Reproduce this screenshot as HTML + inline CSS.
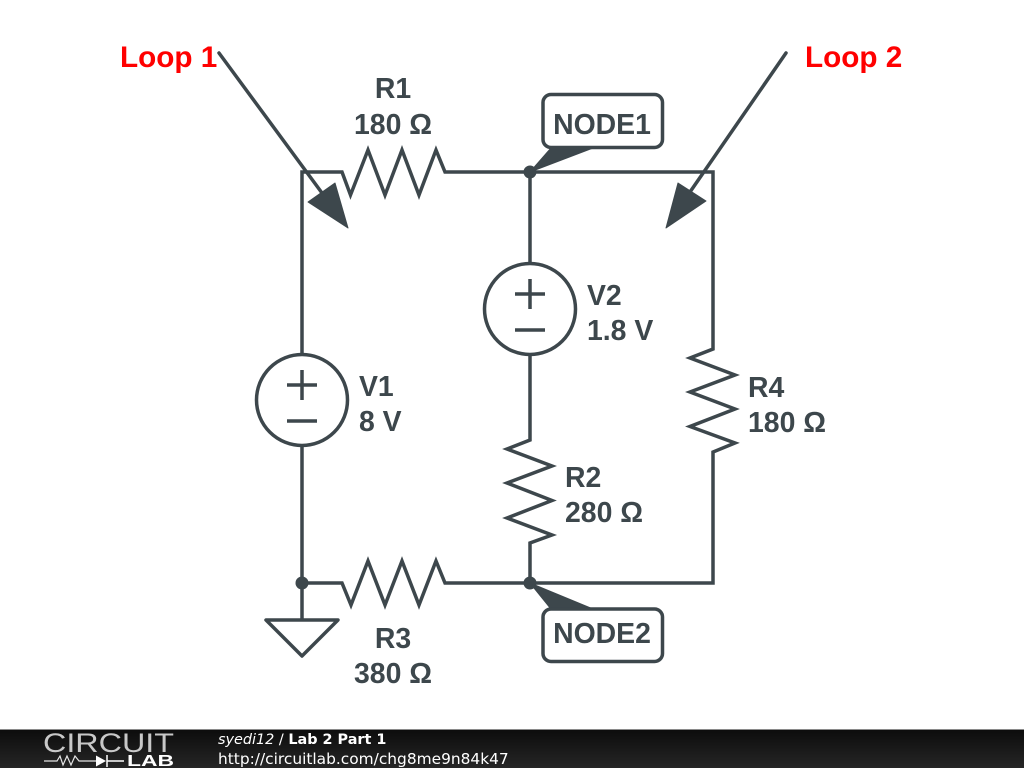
<!DOCTYPE html>
<html><head><meta charset="utf-8"><style>
html,body{margin:0;padding:0;background:#fff;width:1024px;height:768px;overflow:hidden}
svg{display:block}
text{font-family:"Liberation Sans",sans-serif}
.l{font-size:28.4px;font-weight:bold;fill:#3d474c}
.w{fill:none;stroke:#3d474c;stroke-width:3.5;stroke-linejoin:miter}
.c{fill:#fff;stroke:#3d474c;stroke-width:3.5}
.f{font-family:"DejaVu Sans",sans-serif;font-size:15.4px;fill:#fff}
</style></head><body>
<svg width="1024" height="768" viewBox="0 0 1024 768" xmlns="http://www.w3.org/2000/svg">
<defs><linearGradient id="g" x1="0" y1="0" x2="0" y2="1"><stop offset="0" stop-color="#0c0c0c"/><stop offset="1" stop-color="#262626"/></linearGradient></defs>
<rect width="1024" height="768" fill="#fff"/>

<!-- wires -->
<path class="w" d="M302 354V172H342L350.500 195L368 150L385 195L402 150L419 195L436 150L445 172H713V349L690 358L735 375L690 392L735 409L690 426.500L735 443L713 452V583H445L436 561L419 605L402 561L385 605L368 561L351 605L342 583H302"/>
<path class="w" d="M530 172V263M530 355V440L507 449L552 466L507 483L552 500.500L507 518L552 535L530 543V583"/>
<path class="w" d="M302 446V619"/>
<path class="w" style="stroke-linejoin:round" d="M266 620H338L302 656Z"/>

<!-- sources -->
<circle class="c" cx="530" cy="309" r="45.500"/>
<path class="w" d="M515 294H545M530 279V309M515 330H545"/>
<circle class="c" cx="302" cy="400" r="45.500"/>
<path class="w" d="M287 385H317M302 370V400M287 421H317"/>

<!-- junctions -->
<circle cx="530" cy="172" r="6.500" fill="#3d474c"/>
<circle cx="530" cy="583" r="6.500" fill="#3d474c"/>
<circle cx="302" cy="583" r="6.500" fill="#3d474c"/>

<!-- node tags -->
<path d="M530 172L551 148H593Z" fill="#3d474c" stroke="#3d474c" stroke-linejoin="round"/>
<path d="M530 583L551 609H593Z" fill="#3d474c" stroke="#3d474c" stroke-linejoin="round"/>
<rect class="c" x="543" y="94.500" width="119.500" height="53" rx="8"/>
<rect class="c" x="543" y="609" width="119.500" height="52.500" rx="8"/>
<text class="l" x="602" y="134" text-anchor="middle">NODE1</text>
<text class="l" x="602" y="643" text-anchor="middle">NODE2</text>

<!-- loop arrows -->
<path class="w" stroke-linecap="round" d="M219 53L322 193"/>
<path d="M308 202L335 183L348 228Z" fill="#3d474c" stroke="#3d474c" stroke-linejoin="round"/>
<path class="w" stroke-linecap="round" d="M786 53L690 192"/>
<path d="M678 183L706 201L666 228Z" fill="#3d474c" stroke="#3d474c" stroke-linejoin="round"/>
<text x="120" y="67" font-size="29.700" font-weight="bold" fill="#ff0000">Loop 1</text>
<text x="805" y="67" font-size="29.700" font-weight="bold" fill="#ff0000">Loop 2</text>

<!-- labels -->
<text class="l" x="393" y="98" text-anchor="middle">R1</text>
<text class="l" x="393" y="134" text-anchor="middle">180 Ω</text>
<text class="l" x="587" y="305">V2</text>
<text class="l" x="587" y="340">1.8 V</text>
<text class="l" x="359" y="396">V1</text>
<text class="l" x="359" y="431">8 V</text>
<text class="l" x="565" y="487">R2</text>
<text class="l" x="565" y="522">280 Ω</text>
<text class="l" x="748" y="397">R4</text>
<text class="l" x="748" y="432">180 Ω</text>
<text class="l" x="393" y="648" text-anchor="middle">R3</text>
<text class="l" x="393" y="683" text-anchor="middle">380 Ω</text>

<!-- footer -->
<rect x="0" y="729" width="1024" height="39" fill="url(#g)"/>
<rect x="0" y="729" width="1024" height="1" fill="#8a8a8a"/>
<text x="43" y="752" font-size="27" fill="#c8c8c8" textLength="131" lengthAdjust="spacingAndGlyphs">CIRCUIT</text>
<path d="M44 761H57L60 756L63 765L67 756L71 765L75 756L79 761H96" fill="none" stroke="#e6e6e6" stroke-width="1.200"/>
<path d="M96 755.500L106 761L96 766.500Z" fill="#fff"/>
<path d="M107 755V767M107 761H124" fill="none" stroke="#fff" stroke-width="1.500"/>
<text x="127" y="766" font-size="16" font-weight="bold" fill="#fff" textLength="47" lengthAdjust="spacingAndGlyphs">LAB</text>
<text class="f" x="218" y="744" style="font-size:14.4px"><tspan font-style="italic">syedi12</tspan> / <tspan font-weight="bold">Lab 2 Part 1</tspan></text>
<text class="f" x="218" y="764">http://circuitlab.com/chg8me9n84k47</text>
</svg>
</body></html>
